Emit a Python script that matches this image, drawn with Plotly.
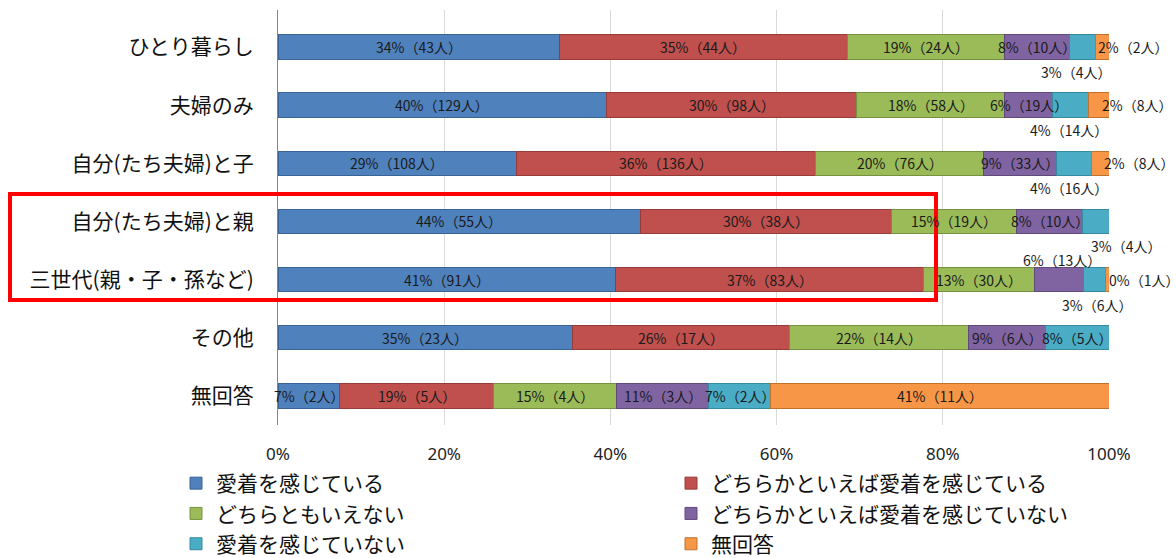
import plotly.graph_objects as go

categories = ["ひとり暮らし", "夫婦のみ", "自分(たち夫婦)と子", "自分(たち夫婦)と親",
              "三世代(親・子・孫など)", "その他", "無回答"]
series_names = ["愛着を感じている", "どちらかといえば愛着を感じている", "どちらともいえない",
                "どちらかといえば愛着を感じていない", "愛着を感じていない", "無回答"]
# counts (人) per category
s_attached = [43, 129, 108, 55, 91, 23, 2]
s_rather_attached = [44, 98, 136, 38, 83, 17, 5]
s_neither = [24, 58, 76, 19, 30, 14, 4]
s_rather_not = [10, 19, 33, 10, 13, 6, 3]
s_not = [4, 14, 16, 4, 6, 5, 2]
s_noanswer = [2, 8, 8, 0, 1, 0, 11]
x_tick_vals = [0, 20, 40, 60, 80, 100]
x_tick_text = ["0%", "20%", "40%", "60%", "80%", "100%"]

colors = ["#4F81BD", "#C0504D", "#9BBB59", "#8064A2", "#4BACC6", "#F79646"]
edge_colors = ["#3A6496", "#963B39", "#76923F", "#5F4A7A", "#358AA0", "#C0722F"]

counts = [s_attached, s_rather_attached, s_neither, s_rather_not, s_not, s_noanswer]
totals = [sum(col) for col in zip(*counts)]
shares = [[c / t * 100 for c, t in zip(s, totals)] for s in counts]

LBL_FONT = dict(family="Liberation Sans Narrow, Noto Sans CJK JP, sans-serif", size=14, color="#1a1a1a")
JP_FONT = "Noto Sans CJK JP, sans-serif"

fig = go.Figure()
for j, name in enumerate(series_names):
    fig.add_trace(go.Bar(
        y=categories, x=shares[j], name=name, orientation="h",
        marker=dict(color=colors[j], line=dict(color=edge_colors[j], width=1)),
        width=0.42, hoverinfo="skip",
    ))

# label placement tweaks: (row, series) -> (mode, xshift px)
overrides = {
    (0, 4): ("below", -7), (0, 5): ("right", -6),
    (1, 4): ("below", -2), (1, 5): ("right", 1),
    (2, 4): ("below", -5), (2, 5): ("right", 2),
    (3, 4): ("below", 30),
    (4, 3): ("above", 3), (4, 4): ("below", 3), (4, 5): ("right", 0),
}

annotations = []
for i, cat in enumerate(categories):
    cum = 0.0
    for j in range(len(series_names)):
        v = shares[j][i]
        n = counts[j][i]
        center = cum + v / 2
        cum += v
        if n == 0:
            continue
        text = f"{int(v + 0.5)}%（{n}人）"
        mode, dx = overrides.get((i, j), ("center", 0))
        dy = {"center": 0, "below": -25, "above": 20, "right": 0}[mode]
        annotations.append(dict(
            x=center, y=cat, xref="x", yref="y", text=text, showarrow=False,
            xanchor="left" if mode == "right" else "center", yanchor="middle",
            xshift=dx, yshift=dy, font=LBL_FONT,
        ))

L, R, T, B = 278, 67, 10, 133
W, H = 1176, 558
pw, ph = W - L - R, H - T - B


def px_x(px):
    return (px - L) / pw


def px_y(py):
    return (H - B - py) / ph


fig.update_layout(
    width=W, height=H,
    margin=dict(l=L, r=R, t=T, b=B, pad=0, autoexpand=False),
    barmode="stack",
    plot_bgcolor="white", paper_bgcolor="white",
    annotations=annotations,
    xaxis=dict(
        range=[0, 100], tickvals=x_tick_vals, ticktext=x_tick_text,
        showgrid=True, gridcolor="#D9D9D9", gridwidth=1,
        zeroline=False, showline=False, ticks="",
        tickfont=dict(family="Liberation Sans Narrow, Noto Sans, sans-serif", size=17, color="#222"),
        ticklabelstandoff=17,
    ),
    yaxis=dict(
        categoryorder="array", categoryarray=categories, autorange="reversed",
        showgrid=False, zeroline=False, showline=True, linecolor="#868686", linewidth=1,
        ticks="", tickfont=dict(family=JP_FONT, size=21, color="#111"),
        ticklabelstandoff=19,
    ),
    legend=dict(
        orientation="h", x=px_x(176), y=px_y(463), xanchor="left", yanchor="top",
        entrywidth=450, entrywidthmode="pixels",
        font=dict(family=JP_FONT, size=21, color="#111"),
        traceorder="normal", itemclick=False,
    ),
    shapes=[dict(
        type="rect", xref="paper", yref="paper",
        x0=px_x(10), x1=px_x(936), y0=px_y(300), y1=px_y(194),
        line=dict(color="#FF0000", width=4), layer="above",
    )],
)

fig.write_html("out.html")
